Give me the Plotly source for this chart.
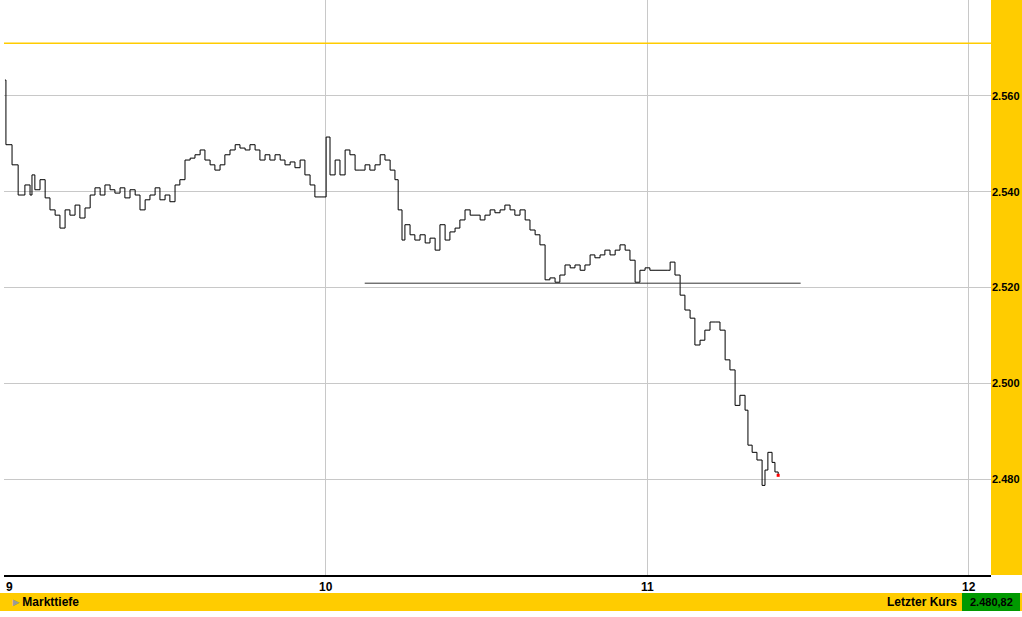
import plotly.graph_objects as go

times = [9.003,9.006,9.025,9.044,9.065,9.081,9.087,9.096,9.112,9.128,9.143,9.159,9.174,9.190,9.205,9.221,9.236,9.252,9.268,9.283,9.299,9.314,9.330,9.345,9.361,9.376,9.392,9.408,9.423,9.439,9.454,9.470,9.485,9.501,9.516,9.532,9.547,9.563,9.579,9.594,9.610,9.625,9.641,9.656,9.672,9.687,9.703,9.719,9.734,9.750,9.765,9.781,9.796,9.812,9.827,9.843,9.859,9.874,9.890,9.905,9.921,9.936,9.952,9.967,9.989,
         10.002,10.014,10.030,10.045,10.061,10.076,10.092,10.107,10.123,10.138,10.154,10.170,10.185,10.201,10.216,10.226,10.238,10.247,10.263,10.278,10.294,10.310,10.325,10.341,10.356,10.372,10.387,10.403,10.418,10.434,10.450,10.465,10.481,10.496,10.512,10.527,10.543,10.558,10.574,10.589,10.605,10.621,10.636,10.652,10.667,10.683,10.698,10.714,10.729,10.745,10.761,10.776,10.792,10.807,10.823,10.838,10.854,10.869,10.885,10.901,10.916,10.932,10.947,10.963,10.978,10.994,
         11.009,11.025,11.065,11.072,11.087,11.103,11.118,11.134,11.149,11.165,11.180,11.196,11.212,11.227,11.243,11.258,11.274,11.289,11.305,11.314,11.327,11.342,11.358,11.367,11.376,11.389,11.398,11.408]
prices = [2.5633,2.5498,2.5456,2.5393,2.5414,2.5393,2.5435,2.5404,2.5425,2.5387,2.5362,2.5351,2.5324,2.5362,2.5351,2.5372,2.5345,2.5366,2.5393,2.5408,2.5393,2.5414,2.5404,2.5397,2.5408,2.5387,2.5404,2.5393,2.5362,2.5383,2.5393,2.5408,2.5383,2.5393,2.5379,2.5414,2.5425,2.5466,2.5470,2.5477,2.5487,2.5466,2.5456,2.5445,2.5456,2.5477,2.5487,2.5498,2.5491,2.5487,2.5498,2.5487,2.5466,2.5477,2.5466,2.5477,2.5466,2.5456,2.5462,2.5450,2.5466,2.5435,2.5414,2.5389,2.5389,
          2.5514,2.5435,2.5466,2.5435,2.5487,2.5477,2.5445,2.5445,2.5456,2.5445,2.5456,2.5477,2.5466,2.5445,2.5425,2.5362,2.5299,2.5331,2.5310,2.5299,2.5310,2.5293,2.5303,2.5278,2.5331,2.5299,2.5316,2.5324,2.5341,2.5362,2.5351,2.5351,2.5341,2.5351,2.5362,2.5356,2.5362,2.5372,2.5362,2.5351,2.5362,2.5341,2.5320,2.5310,2.5289,2.5216,2.5220,2.5211,2.5226,2.5247,2.5241,2.5247,2.5236,2.5247,2.5268,2.5262,2.5268,2.5278,2.5268,2.5278,2.5289,2.5278,2.5257,2.5211,2.5236,2.5241,
          2.5236,2.5236,2.5236,2.5253,2.5226,2.5184,2.5153,2.5136,2.5080,2.5090,2.5111,2.5128,2.5128,2.5111,2.5049,2.5028,2.4954,2.4975,2.4944,2.4871,2.4856,2.4840,2.4787,2.4819,2.4856,2.4835,2.4815,2.4808]
ref_line = {"t0": 10.122, "t1": 11.478, "price": 2.5209}
top_line = 2.571
y_ticks = [2.48, 2.50, 2.52, 2.54, 2.56]
y_labels = ["2.480", "2.500", "2.520", "2.540", "2.560"]
x_ticks = [9, 10, 11, 12]
last_price = "2.480,82"

YEL = "#FFCC00"
fig = go.Figure()
fig.add_trace(go.Scatter(x=times, y=prices, mode="lines", line=dict(color="black", width=1, shape="hv"), hoverinfo="skip"))
fig.add_trace(go.Scatter(x=[ref_line["t0"], ref_line["t1"]], y=[ref_line["price"]]*2, mode="lines", line=dict(color="#333", width=1)))
fig.add_trace(go.Scatter(x=[times[-1]], y=[prices[-1]], mode="markers", marker=dict(color="red", size=3, symbol="square")))

fig.update_layout(
    width=1022, height=617, margin=dict(l=4, r=31, t=0, b=42), showlegend=False,
    plot_bgcolor="white", paper_bgcolor="white",
    xaxis=dict(range=[9, 12.07], tickvals=x_ticks, showticklabels=False, showgrid=True, gridcolor="#c8c8c8", zeroline=False,
               showline=True, linecolor="black", linewidth=2),
    yaxis=dict(range=[2.460, 2.580], tickvals=y_ticks, ticktext=y_labels, side="right", showgrid=True, gridcolor="#c8c8c8",
               zeroline=False, ticks="", tickfont=dict(family="Liberation Sans", size=11, color="black", weight="bold"), ticklabelstandoff=0),
)
fig.add_shape(type="rect", xref="paper", yref="paper", x0=1, x1=1.0325, y0=0, y1=1, fillcolor=YEL, line_width=0, layer="below")
fig.add_shape(type="line", xref="paper", yref="y", x0=0, x1=1, y0=top_line, y1=top_line, line=dict(color=YEL, width=1.5))
fig.add_shape(type="rect", xref="paper", yref="paper", x0=-0.0041, x1=1.0314, y0=-0.0313, y1=-0.0626, fillcolor=YEL, line_width=0)
fig.add_shape(type="rect", xref="paper", yref="paper", x0=0.9706, x1=1.0294, y0=-0.0313, y1=-0.0626, fillcolor="#009900", line_width=0)
bf = dict(family="Liberation Sans", size=12, color="black", weight="bold")
for v in x_ticks:
    fig.add_annotation(x=v, y=-0.005, xref="x", yref="paper", text=str(v), showarrow=False, yanchor="top",
                       xanchor="left" if v == 9 else "center", font=bf)
fig.add_annotation(x=0.006, y=-0.047, xref="paper", yref="paper", text="<span style='color:#999'>▸</span> Markttiefe", showarrow=False, xanchor="left", yanchor="middle", font=bf)
fig.add_annotation(x=0.9706, y=-0.047, xref="paper", yref="paper", text="Letzter Kurs ", showarrow=False, xanchor="right", yanchor="middle", font=bf)
fig.add_annotation(x=1.0, y=-0.047, xref="paper", yref="paper", text=last_price, showarrow=False, xanchor="center", yanchor="middle", font=dict(family="Liberation Sans", size=11, color="black", weight="bold"))
fig.write_html("out.html", config={"displayModeBar": False}, post_script="document.body.style.margin='0';document.body.style.overflow='hidden';")
